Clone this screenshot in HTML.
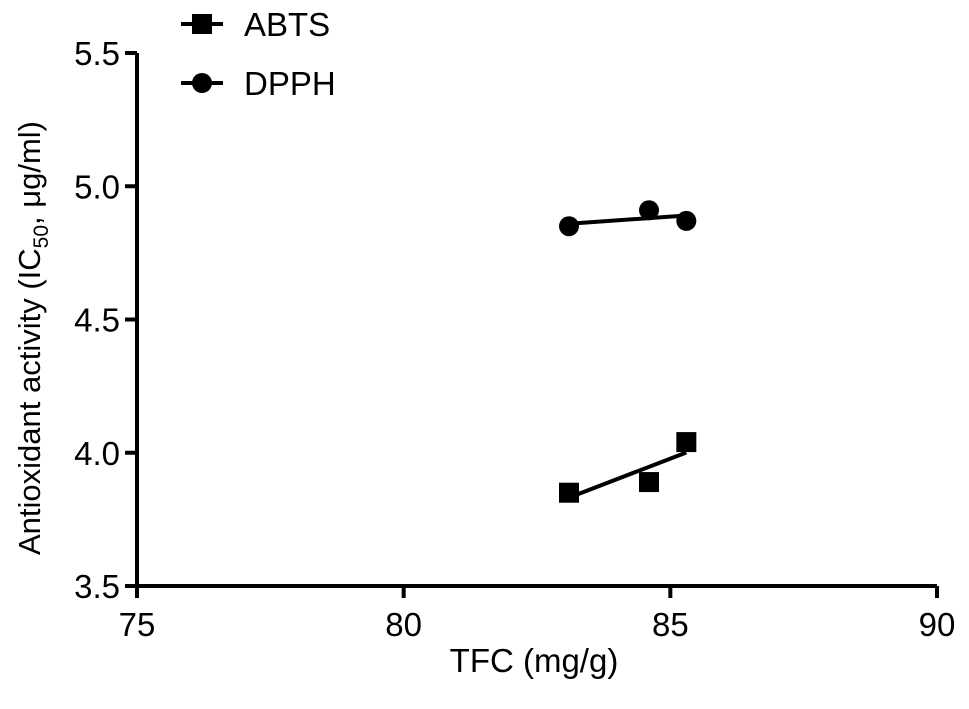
<!DOCTYPE html>
<html><head><meta charset="utf-8"><style>
html,body{margin:0;padding:0;background:#fff;}
svg{display:block;font-family:"Liberation Sans",Arial,sans-serif;}
</style></head><body>
<svg id="chart" width="969" height="709" viewBox="0 0 969 709">
<g id="axes"></g>
<g id="series"></g>
<g id="legend">
 <line x1="181" y1="24" x2="223" y2="24" stroke="#000" stroke-width="4"/>
 <rect x="192" y="14" width="20" height="20" fill="#000"/>
 <text x="244" y="36" font-size="33">ABTS</text>
 <line x1="181" y1="83" x2="223" y2="83" stroke="#000" stroke-width="4"/>
 <circle cx="202" cy="83" r="10" fill="#000"/>
 <text x="244" y="95" font-size="33">DPPH</text>
</g>
<text x="534" y="672" font-size="33" text-anchor="middle">TFC (mg/g)</text>
<text transform="translate(40,338) rotate(-90)" font-size="31" text-anchor="middle">Antioxidant activity (IC<tspan font-size="21" dy="8">50</tspan><tspan dy="-8">, μg/ml)</tspan></text>
</svg>
<script>
const xTicks=[75,80,85,90];
const yTicks=[3.5,4.0,4.5,5.0,5.5];
const yTickLabels=["3.5","4.0","4.5","5.0","5.5"];
const tfc=[83.1,84.6,85.3];
const abts=[3.85,3.89,4.04];
const dpph=[4.85,4.91,4.87];
const NS="http://www.w3.org/2000/svg";
const X0=137,X1=937,Y0=586,Y1=53;
function xs(v){return X0+(v-75)/(90-75)*(X1-X0);}
function ys(v){return Y0-(v-3.5)/(5.5-3.5)*(Y0-Y1);}
function mk(tag,attrs,parent){const e=document.createElementNS(NS,tag);for(const k in attrs)e.setAttribute(k,attrs[k]);parent.appendChild(e);return e;}
const axes=document.getElementById('axes');
let e=mk('line',{x1:X0,y1:Y1,x2:X0,y2:Y0,stroke:'#000','stroke-width':4},axes);


e=mk('line',{x1:X0-2,y1:Y0,x2:X1,y2:Y0,stroke:'#000','stroke-width':4},axes);


xTicks.forEach(t=>{
 let l=mk('line',{x1:xs(t),y1:Y0,x2:xs(t),y2:Y0+12,stroke:'#000','stroke-width':4},axes);
 
 
 let tx=mk('text',{x:xs(t),y:Y0+50,'font-size':33,'text-anchor':'middle'},axes);tx.textContent=t;
 
 
});
yTicks.forEach((t,i)=>{
 let l=mk('line',{x1:X0-12,y1:ys(t),x2:X0,y2:ys(t),stroke:'#000','stroke-width':4},axes);
 
 
 let tx=mk('text',{x:X0-17,y:ys(t)+12,'font-size':33,'text-anchor':'end'},axes);tx.textContent=yTickLabels[i];
 
 
});
function fit(x,y){const n=x.length;const mx=x.reduce((a,b)=>a+b)/n,my=y.reduce((a,b)=>a+b)/n;let sxy=0,sxx=0;for(let i=0;i<n;i++){sxy+=(x[i]-mx)*(y[i]-my);sxx+=(x[i]-mx)**2;}const b=sxy/sxx;return [b,my-b*mx];}
const ser=document.getElementById('series');
[[abts,'abts','square'],[dpph,'dpph','circle']].forEach(([vals,name,shape])=>{
 const [b,a]=fit(tfc,vals);const xmin=Math.min(...tfc),xmax=Math.max(...tfc);
 let l=mk('line',{x1:xs(xmin),y1:ys(a+b*xmin),x2:xs(xmax),y2:ys(a+b*xmax),stroke:'#000','stroke-width':4},ser);
 
 
 tfc.forEach((x,i)=>{
  let m;
  if(shape==='square')m=mk('rect',{x:xs(x)-10,y:ys(vals[i])-10,width:20,height:20,fill:'#000'},ser);
  else m=mk('circle',{cx:xs(x),cy:ys(vals[i]),r:10,fill:'#000'},ser);
  
  
 });
});
</script>
</body></html>
